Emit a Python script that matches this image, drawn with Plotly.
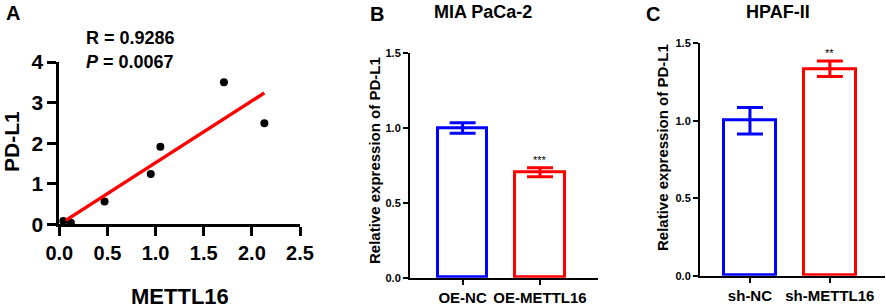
import numpy as np
import plotly.graph_objects as go

# ---- Panel A data (scatter) ----
mettl16 = [0.042, 0.12, 0.47, 0.95, 1.05, 1.71, 2.13]
pdl1 = [0.08, 0.04, 0.56, 1.24, 1.91, 3.50, 2.49]
r_text = "R = 0.9286"
p_text = "<i>P</i> = 0.0067"

# ---- Panel B data ----
b_cats = ["OE-NC", "OE-METTL16"]
b_vals = [1.0, 0.705]
b_err = [0.035, 0.03]
b_sig = ["", "***"]

# ---- Panel C data ----
c_cats = ["sh-NC", "sh-METTL16"]
c_vals = [1.0, 1.335]
c_err = [0.085, 0.05]
c_sig = ["", "**"]

bar_colors = ["#0000ff", "#ff0000"]

W, H = 886, 308
def px_x(p):
    return p / W
def px_y(p):
    return 1 - p / H

FONT = "Liberation Sans, Arial, sans-serif"

fig = go.Figure()

# Panel A
fig.add_trace(go.Scatter(x=mettl16, y=pdl1, mode="markers",
                         marker=dict(color="black", size=8),
                         cliponaxis=False, xaxis="x", yaxis="y", showlegend=False))
slope, intercept = np.polyfit(mettl16, pdl1, 1)
lx = [min(mettl16) + 0.025, max(mettl16)]
ly = [slope * v + intercept for v in lx]
fig.add_trace(go.Scatter(x=lx, y=ly, mode="lines",
                         line=dict(color="#ff0000", width=3.5),
                         cliponaxis=False, xaxis="x", yaxis="y", showlegend=False))

# Panel B bars
fig.add_trace(go.Bar(x=b_cats, y=b_vals, width=0.635,
                     marker=dict(color="white", line=dict(color=bar_colors, width=3)),
                     xaxis="x2", yaxis="y2", showlegend=False))
# Panel C bars
fig.add_trace(go.Bar(x=c_cats, y=c_vals, width=0.645,
                     marker=dict(color="white", line=dict(color=bar_colors, width=3)),
                     xaxis="x3", yaxis="y3", showlegend=False))

# per-bar coloured error bars
for cats, vals, errs, xa, ya in [(b_cats, b_vals, b_err, "x2", "y2"), (c_cats, c_vals, c_err, "x3", "y3")]:
    for i in range(2):
        fig.add_trace(go.Scatter(x=[cats[i]], y=[vals[i]], mode="markers",
                                 marker=dict(size=1, color="rgba(0,0,0,0)"),
                                 error_y=dict(type="data", array=[errs[i]], visible=True,
                                              color=bar_colors[i], thickness=3, width=13),
                                 cliponaxis=False, xaxis=xa, yaxis=ya, showlegend=False))

common_axis = dict(showline=True, linecolor="black", showgrid=False, zeroline=False,
                   ticks="outside", tickcolor="black", automargin=False)

fig.update_layout(
    template="none",
    width=W, height=H, margin=dict(l=0, r=0, t=0, b=0, autoexpand=False),
    paper_bgcolor="white", plot_bgcolor="white",
    font=dict(family=FONT, color="black"),
    bargap=0,
    xaxis=dict(**common_axis, domain=[px_x(59.3), px_x(300)], range=[0, 2.5],
               tickvals=[0, 0.5, 1.0, 1.5, 2.0, 2.5], tickformat=".1f",
               linewidth=3, tickwidth=3, ticklen=9, anchor="y",
               tickfont=dict(size=20, family=FONT, weight="bold")),
    yaxis=dict(**common_axis, domain=[px_y(224.3), px_y(62)], range=[0, 4],
               tickvals=[0, 1, 2, 3, 4], linewidth=3, tickwidth=3, ticklen=9, anchor="x",
               tickfont=dict(size=21, family=FONT, weight="bold")),
    xaxis2=dict(**common_axis, domain=[px_x(410), px_x(598)], range=[-0.68, 1.75],
                linewidth=2, tickwidth=2, ticklen=5, anchor="y2",
                tickfont=dict(size=15, family=FONT, weight="bold")),
    yaxis2=dict(**common_axis, domain=[px_y(277.7), px_y(53.3)], range=[0, 1.5],
                tickvals=[0, 0.5, 1.0, 1.5], tickformat=".1f",
                linewidth=2, tickwidth=2, ticklen=5, anchor="x2",
                tickfont=dict(size=11, family=FONT, weight="bold")),
    xaxis3=dict(**common_axis, domain=[px_x(700), px_x(885)], range=[-0.625, 1.69],
                linewidth=2, tickwidth=2, ticklen=5, anchor="y3",
                tickfont=dict(size=15, family=FONT, weight="bold")),
    yaxis3=dict(**common_axis, domain=[px_y(275.7), px_y(43.3)], range=[0, 1.5],
                tickvals=[0, 0.5, 1.0, 1.5], tickformat=".1f",
                linewidth=2, tickwidth=2, ticklen=5, anchor="x3",
                tickfont=dict(size=11, family=FONT, weight="bold")),
)

def ann(text, x, y, size, angle=0, xanchor="center", color="black"):
    fig.add_annotation(text=f"<b>{text}</b>", x=px_x(x), y=px_y(y), xref="paper", yref="paper",
                       showarrow=False, textangle=angle, xanchor=xanchor, yanchor="middle",
                       font=dict(size=size, family=FONT, color=color))

# Panel letters and titles
ann("A", 13, 13, 20)
ann("B", 377, 14, 20)
ann("C", 653, 14, 20)
ann("MIA PaCa-2", 483, 12, 18)
ann("HPAF-II", 778, 12, 18)
# Panel A texts
ann(r_text, 84, 38, 18, xanchor="left")
ann(p_text, 84, 62, 18, xanchor="left")
ann("PD-L1", 11, 142, 21, angle=-90)
ann("METTL16", 180, 296, 22)
# Bar y titles
ann("Relative expression of PD-L1", 374, 161, 15, angle=-90)
ann("Relative expression of PD-L1", 662, 148, 15, angle=-90)

# significance stars
for cats, vals, errs, sig, xa, ya in [(b_cats, b_vals, b_err, b_sig, "x2", "y2"),
                                      (c_cats, c_vals, c_err, c_sig, "x3", "y3")]:
    for i in range(2):
        if sig[i]:
            fig.add_annotation(text=sig[i], x=cats[i], y=vals[i] + errs[i], xref=xa, yref=ya,
                               showarrow=False, yanchor="bottom", yshift=0,
                               font=dict(size=11, family=FONT, color="black"))

fig.write_html("out.html", config={"displayModeBar": False},
               post_script="document.body.style.margin='0px';document.body.style.overflow='hidden';")
